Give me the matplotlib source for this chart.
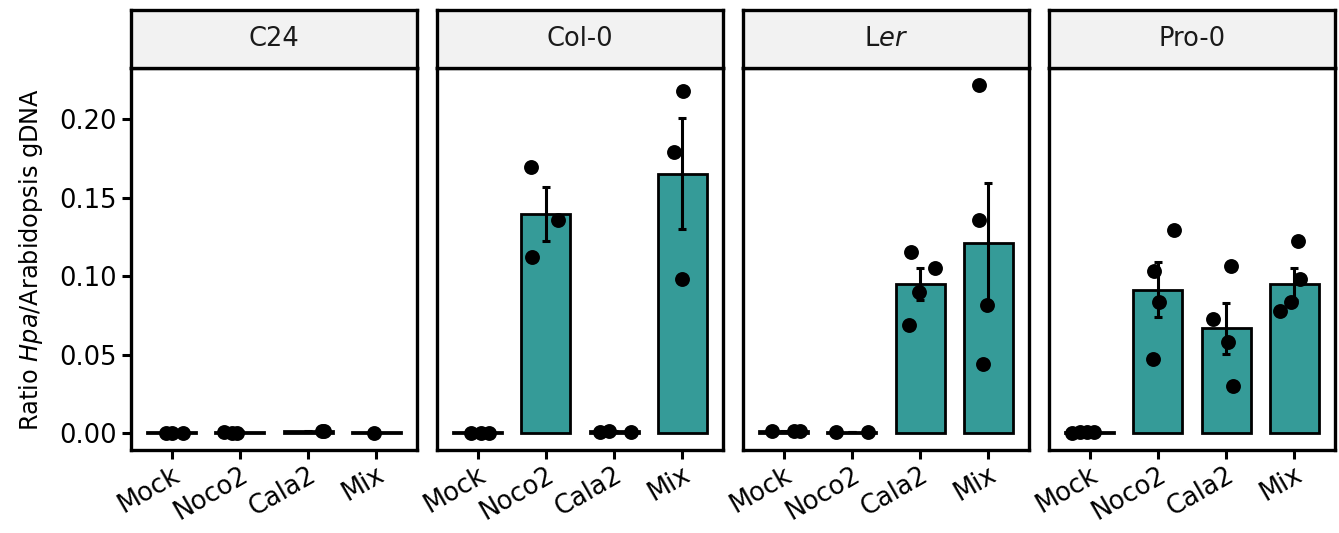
import matplotlib
matplotlib.use("Agg")
import matplotlib.pyplot as plt
import numpy as np

plt.rcParams['font.family'] = ['DejaVu Sans']
plt.rcParams['mathtext.fontset'] = 'dejavusans'

# ---------------- data ----------------
strains = ["C24", "Col-0", "Ler", "Pro-0"]
strain_labels = ["C24", "Col-0", "L$\\mathit{er}$", "Pro-0"]
treatments = ["Mock", "Noco2", "Cala2", "Mix"]
ytick_values = [0.00, 0.05, 0.10, 0.15, 0.20]
ytick_labels = ["0.00", "0.05", "0.10", "0.15", "0.20"]

# bar heights (means) per strain, in treatment order
mean_C24 = [0.0008, 0.0008, 0.0010, 0.0008]
mean_Col0 = [0.0008, 0.1394, 0.0010, 0.1652]
mean_Ler = [0.0010, 0.0008, 0.0949, 0.1210]
mean_Pro0 = [0.0008, 0.0912, 0.0668, 0.0949]

# standard errors
se_C24 = [0.0001, 0.0002, 0.0002, 0.0001]
se_Col0 = [0.0001, 0.0170, 0.0002, 0.0352]
se_Ler = [0.0001, 0.0001, 0.0105, 0.0380]
se_Pro0 = [0.0002, 0.0175, 0.0162, 0.0103]

# individual replicate values
pts_C24 = [[0.0000, 0.0000, 0.0003], [0.0008, 0.0000, 0.0003], [0.0012, 0.0015], [0.0000]]
pts_Col0 = [[0.0000, 0.0000, 0.0002], [0.1696, 0.1355, 0.1121], [0.0005, 0.0012, 0.0008], [0.2180, 0.1793, 0.0983]]
pts_Ler = [[0.0015, 0.0012, 0.0010], [0.0008, 0.0008], [0.1154, 0.1052, 0.0897, 0.0685], [0.2218, 0.1359, 0.0815, 0.0437]]
pts_Pro0 = [[0.0000, 0.0005, 0.0008, 0.0008], [0.1290, 0.1031, 0.0836, 0.0474], [0.1061, 0.0728, 0.0577, 0.0297], [0.1225, 0.0979, 0.0832, 0.0776]]

# horizontal jitter of the replicate points (category units)
jit_C24 = [[-0.08, 0.00, 0.17], [-0.24, -0.12, -0.05], [0.20, 0.23], [-0.03]]
jit_Col0 = [[-0.10, 0.05, 0.17], [-0.22, 0.18, -0.21], [-0.21, -0.08, 0.25], [0.015, -0.12, 0.00]]
jit_Ler = [[-0.18, 0.155, 0.23], [-0.24, 0.23], [-0.13, 0.22, -0.01, -0.165], [-0.14, -0.14, -0.015, -0.075]]
jit_Pro0 = [[-0.26, -0.14, -0.04, 0.06], [0.24, -0.06, 0.02, -0.07], [0.08, -0.19, 0.03, 0.10], [0.06, 0.08, -0.04, -0.21]]

means = [mean_C24, mean_Col0, mean_Ler, mean_Pro0]
ses = [se_C24, se_Col0, se_Ler, se_Pro0]
pts = [pts_C24, pts_Col0, pts_Ler, pts_Pro0]
jits = [jit_C24, jit_Col0, jit_Ler, jit_Pro0]

# ---------------- figure ----------------
W, H = 1339, 533
fig = plt.figure(figsize=(W / 100, H / 100), dpi=100)

bar_color = "#359B98"
lw_frame = 2.4
panel_lefts = [131, 437, 743, 1049]
panel_w = 286
panel_top = 68
panel_bot = 450
strip_top = 10

for i, strain in enumerate(strains):
    left = panel_lefts[i] / W
    ax = fig.add_axes([left, (H - panel_bot) / H, panel_w / W, (panel_bot - panel_top) / H])
    x = np.arange(1, len(treatments) + 1)
    ax.bar(x, means[i], width=0.72, color=bar_color, edgecolor="black", linewidth=2.0, zorder=2)
    ax.errorbar(x, means[i], yerr=ses[i], fmt="none", ecolor="black", elinewidth=2.2,
                capsize=2.6, capthick=2.2, zorder=3)
    for j in range(len(treatments)):
        xs = x[j] + np.array(jits[i][j])
        ax.scatter(xs, pts[i][j], s=115, color="black", linewidths=0, zorder=4)
    ax.set_xlim(0.4, 4.6)
    ax.set_ylim(-0.01083, 0.2325)
    ax.set_xticks(x)
    ax.set_xticklabels(treatments, rotation=30, ha="right", va="top",
                       rotation_mode="anchor", fontsize=18.5)
    ax.set_yticks(ytick_values)
    ax.set_yticklabels(ytick_labels, fontsize=18.5)
    ax.tick_params(axis="both", length=6.5, width=2.2, color="black", labelcolor="black")
    ax.tick_params(axis="x", pad=2)
    ax.tick_params(axis="y", pad=4)
    if i > 0:
        ax.tick_params(axis="y", left=False, labelleft=False)
    else:
        ax.set_ylabel("Ratio $\\mathit{Hpa}$/Arabidopsis gDNA", fontsize=17.3, labelpad=10)
    for sp in ax.spines.values():
        sp.set_linewidth(lw_frame)
        sp.set_color("black")
        sp.set_zorder(5)

    # facet strip
    sax = fig.add_axes([left, (H - panel_top) / H, panel_w / W, (panel_top - strip_top) / H])
    sax.set_facecolor("#F2F2F2")
    sax.set_xticks([])
    sax.set_yticks([])
    for sp in sax.spines.values():
        sp.set_linewidth(lw_frame)
        sp.set_color("black")
    sax.text(0.5, 0.5, strain_labels[i], transform=sax.transAxes, ha="center", va="center",
             fontsize=18.5, color="#1A1A1A")

fig.savefig("out.png", dpi=100)
